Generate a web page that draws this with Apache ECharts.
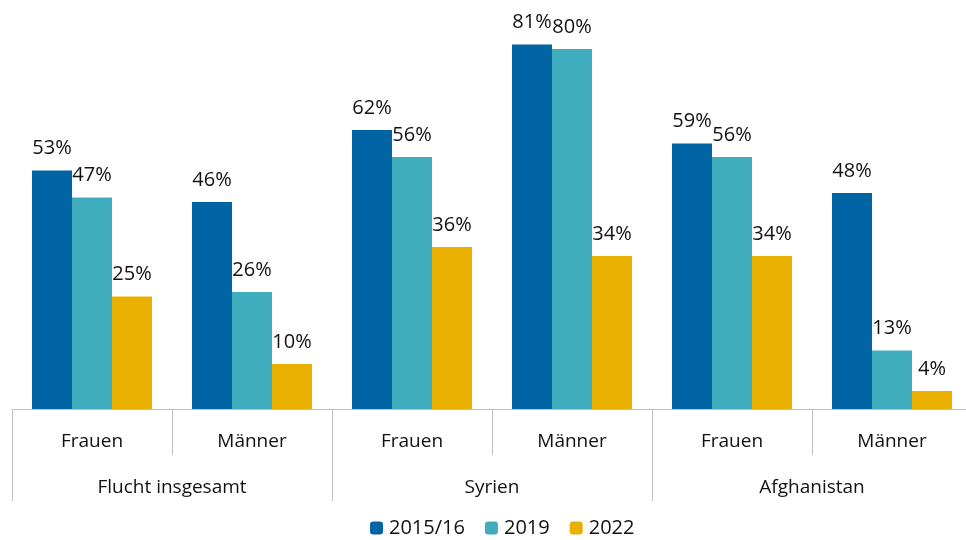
<!DOCTYPE html>
<html>
<head>
<meta charset="utf-8">
<script src="https://cdn.jsdelivr.net/npm/echarts@6/dist/echarts.min.js"></script>
<style>
  html, body { margin: 0; padding: 0; background: #fff; overflow: hidden; }
  #chart { width: 980px; height: 540px; }
</style>
</head>
<body>
<div id="chart"></div>
<script>
// Kategorien (untere Ebene) und Gruppen (obere Ebene)
const categories = ['Frauen', 'Männer', 'Frauen', 'Männer', 'Frauen', 'Männer'];
const groups = ['Flucht insgesamt', 'Syrien', 'Afghanistan'];
const seriesNames = ['2015/16', '2019', '2022'];

const values2015 = [53, 46, 62, 81, 59, 48];
const values2019 = [47, 26, 56, 80, 56, 13];
const values2022 = [25, 10, 36, 34, 34, 4];

const colors = ['#0064a5', '#40adbf', '#e9b000'];
const fontFamily = '"Open Sans", "Noto Sans", sans-serif';

const chart = echarts.init(document.getElementById('chart'));

function makeSeries(name, data, color) {
    return {
        name: name,
        type: 'bar',
        data: data,
        barGap: '0%',
        barCategoryGap: '25%',
        itemStyle: { color: color },
        label: {
            show: true,
            position: 'top',
            distance: 12,
            formatter: '{c}%',
            color: '#111',
            fontSize: 20,
            fontFamily: fontFamily
        }
    };
}

const option = {
    animation: false,
    textStyle: { fontFamily: fontFamily },
    grid: { left: 12, width: 960, top: 4, bottom: 131 },
    legend: {
        top: 518,
        left: 370,
        padding: 0,
        itemWidth: 13,
        itemHeight: 13,
        itemGap: 20,
        textStyle: { fontSize: 20, color: '#111', fontFamily: fontFamily, padding: [0, 0, 0, 1] },
        data: seriesNames
    },
    xAxis: [
        {
            type: 'category',
            data: categories,
            position: 'bottom',
            axisLine: { lineStyle: { color: '#bfbfbf', width: 1 } },
            axisTick: { show: true, length: 46, lineStyle: { color: '#bfbfbf' } },
            axisLabel: { margin: 23, fontSize: 19, color: '#111', fontFamily: fontFamily }
        },
        {
            type: 'category',
            data: groups,
            position: 'bottom',
            axisLine: { show: false },
            axisTick: { show: true, length: 92, lineStyle: { color: '#bfbfbf' } },
            axisLabel: { margin: 69, fontSize: 19, color: '#111', fontFamily: fontFamily }
        }
    ],
    yAxis: {
        type: 'value',
        min: 0,
        max: 90,
        show: false,
        splitLine: { show: false }
    },
    series: [
        makeSeries(seriesNames[0], values2015, colors[0]),
        makeSeries(seriesNames[1], values2019, colors[1]),
        makeSeries(seriesNames[2], values2022, colors[2])
    ]
};

chart.setOption(option);
</script>
</body>
</html>
